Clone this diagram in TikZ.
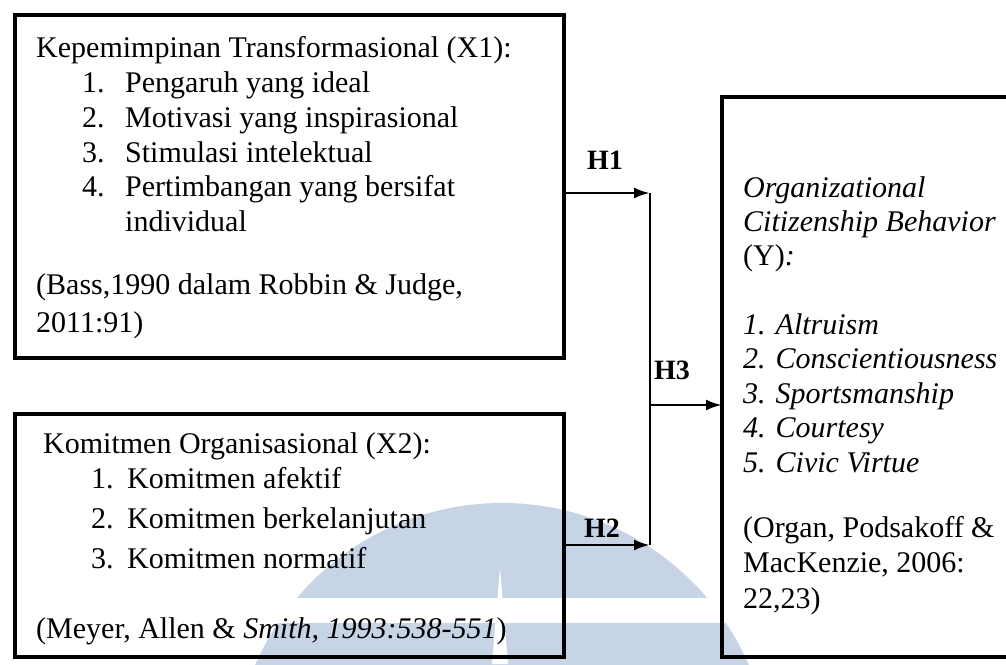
\documentclass[tikz,border=0pt]{standalone}
\usepackage{fontspec}
\setmainfont{Liberation Serif}
\usetikzlibrary{arrows.meta}
\definecolor{wmblue}{RGB}{198,212,230}
\begin{document}
\begin{tikzpicture}[x=1pt,y=-1pt,
  box/.style={draw=black, line width=4.5pt, inner sep=0pt, outer sep=0pt, anchor=north west},
  txt/.style={anchor=base west, inner sep=0pt, font=\fontsize{30}{35}\selectfont},
  lab/.style={anchor=center, inner sep=0pt, font=\fontsize{28}{30}\selectfont\bfseries},
  conn/.style={line width=2.8pt},
  arr/.style={conn, -{Latex[length=16pt,width=11pt]}}]
\useasboundingbox (0,0) rectangle (1006,664);
\fill[white] (0,0) rectangle (1006,664);
% watermark
\begin{scope}
\clip (0,0) rectangle (1006,664);
\fill[wmblue] (502,772) circle[radius=269];
\fill[white] (200,598) rectangle (800,623);
\fill[white] (500,568) -- (508,664) -- (492,664) -- cycle;
\end{scope}
% boxes
\node[box, minimum width=549pt, minimum height=343pt] (x1) at (15,15) {};
\node[box, minimum width=549pt, minimum height=243pt] (x2) at (15,414) {};
\node[box, minimum width=300pt, minimum height=560pt] (y) at (722,97) {};
% box 1 text
\node[txt] (a0) at (36,57) {Kepemimpinan Transformasional (X1):};
\node[txt] (a1n) at (82,92) {1.};
\node[txt] (a1) at (125,92) {Pengaruh yang ideal};
\node[txt] (a2n) at (82,127) {2.};
\node[txt] (a2) at (125,127) {Motivasi yang inspirasional};
\node[txt] (a3n) at (82,162) {3.};
\node[txt] (a3) at (125,162) {Stimulasi intelektual};
\node[txt] (a4n) at (82,196) {4.};
\node[txt] (a4) at (125,196) {Pertimbangan yang bersifat};
\node[txt] (a5) at (125,231) {individual};
\node[txt] (a6) at (36,294) {(Bass,1990 dalam Robbin \& Judge,};
\node[txt] (a7) at (36,332) {2011:91)};
% box 2 text
\node[txt] (b0) at (43,453) {Komitmen Organisasional (X2):};
\node[txt] (b1n) at (91,488) {1.};
\node[txt] (b1) at (127,488) {Komitmen afektif};
\node[txt] (b2n) at (91,528) {2.};
\node[txt] (b2) at (127,528) {Komitmen berkelanjutan};
\node[txt] (b3n) at (91,568) {3.};
\node[txt] (b3) at (127,568) {Komitmen normatif};
\node[txt] (b4) at (36,638) {(Meyer, Allen \& \textit{Smith, 1993:538-551})};
% box 3 text
\node[txt] (c0) at (743,197) {\itshape Organizational};
\node[txt] (c1) at (743,231) {\itshape Citizenship Behavior};
\node[txt] (c2) at (743,265) {(Y)\textit{:}};
\node[txt] (c3) at (743,334) {\itshape 1. Altruism};
\node[txt] (c4) at (743,368.5) {\itshape 2. Conscientiousness};
\node[txt] (c5) at (743,403) {\itshape 3. Sportsmanship};
\node[txt] (c6) at (743,437.5) {\itshape 4. Courtesy};
\node[txt] (c7) at (743,472) {\itshape 5. Civic Virtue};
\node[txt] (c8) at (743,537) {(Organ, Podsakoff \&};
\node[txt] (c9) at (743,572) {MacKenzie, 2006:};
\node[txt] (c10) at (743,608) {22,23)};
% connectors
\coordinate (j1) at (650,193);
\coordinate (j3) at (650,405);
\coordinate (j2) at (650,545);
\draw[conn] (j1) -- (j2);
\draw[arr] (x1.east |- j1) -- (j1);
\draw[arr] (x2.east |- j2) -- (j2);
\draw[arr] (j3) -- (j3 -| y.west);
% labels
\node[lab] (h1) at (605,160) {H1};
\node[lab] (h3) at (672,370) {H3};
\node[lab] (h2) at (602,528) {H2};
\end{tikzpicture}
\end{document}
